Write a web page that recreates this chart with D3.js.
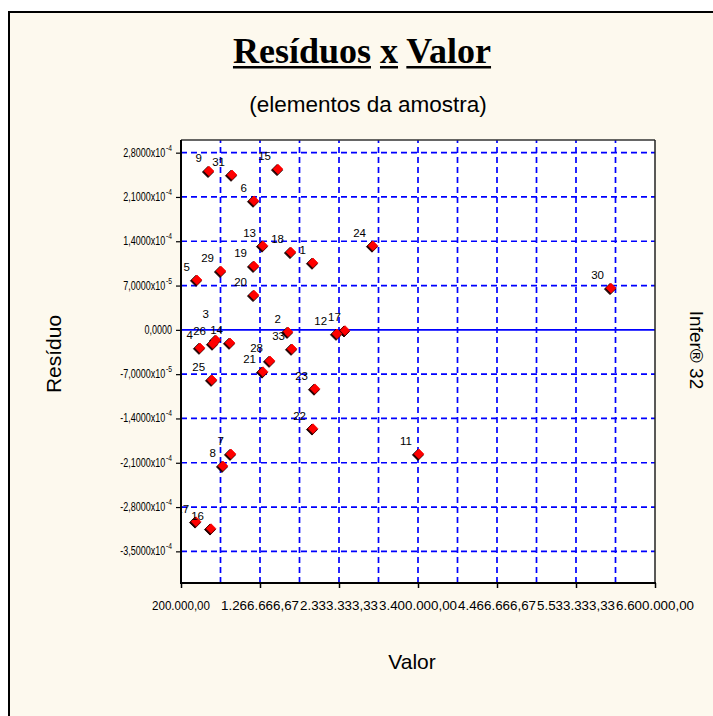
<!DOCTYPE html>
<html><head><meta charset="utf-8">
<script src="https://cdn.jsdelivr.net/npm/d3@7/dist/d3.min.js"></script>
<style>body{margin:0;background:#fff;overflow:hidden}</style>
</head><body>
<script>
// ---- data ----
const ids = ["1","2","3","4","5","6","7","8","9","11","12","13","14","15","16","17","18","19","20","21","22","23","24","25","26","27","28","29","30","31","33"];
const valores = [1982000,1645000,672000,456000,416000,1186000,875000,767000,578000,3413000,2306000,1307000,862000,1510000,605000,2414000,1685000,1186000,1186000,1307000,1982000,2009000,2792000,619000,632000,403000,1402000,740000,6006000,889000,1699000];
const residuos = [1.06e-4,-3.2e-6,-1.6e-5,-2.84e-5,7.9e-5,2.04e-4,-1.96e-4,-2.15e-4,2.51e-4,-1.96e-4,-6.3e-6,1.33e-4,-2.05e-5,2.54e-4,-3.14e-4,-1.0e-6,1.23e-4,1.01e-4,5.5e-5,-6.6e-5,-1.56e-4,-9.3e-5,1.33e-4,-7.9e-5,-2.2e-5,-3.03e-4,-4.9e-5,9.3e-5,6.6e-5,2.45e-4,-3.0e-5];
const xTicks = [200000, 1266666.67, 2333333.33, 3400000, 4466666.67, 5533333.33, 6600000];
const xGrid = [733333.33,1266666.67,1800000,2333333.33,2866666.67,3400000,3933333.33,4466666.67,5000000,5533333.33,6066666.67];
const yTicks = [2.8e-4, 2.1e-4, 1.4e-4, 7e-5, 0, -7e-5, -1.4e-4, -2.1e-4, -2.8e-4, -3.5e-4];
const titleText = "Resíduos x Valor";
const subtitleText = "(elementos da amostra)";
const xTitle = "Valor", yTitle = "Resíduo", sideText = "Infer® 32";

// ---- layout ----
const W = 713, H = 716;
const L = 181, R = 655, T = 140, B = 583;
const cream = "#fdf9ee";
const sans = "Liberation Sans, Arial, sans-serif";

const svg = d3.select("body").append("svg").attr("width", W).attr("height", H);
svg.append("rect").attr("x",0).attr("y",0).attr("width",W).attr("height",H).attr("fill","#fff");
svg.append("rect").attr("x",9).attr("y",12).attr("width",W+20).attr("height",H+20)
  .attr("fill",cream).attr("stroke","#000").attr("stroke-width",2);

const x = d3.scaleLinear().domain([200000, 6600000]).range([L, R]);
const y = d3.scaleLinear().domain([-4.0e-4, 3.0e-4]).range([B, T]);

svg.append("rect").attr("x",L).attr("y",T).attr("width",R-L).attr("height",B-T).attr("fill","#fff");

const defs = svg.append("defs");
defs.append("clipPath").attr("id","clip").append("rect").attr("x",L).attr("y",T).attr("width",R-L).attr("height",B-T);

// grid
const grid = svg.append("g").attr("stroke","#0000ff").attr("stroke-width",1.7).attr("stroke-dasharray","6,4");
grid.selectAll("line.v").data(xGrid).join("line")
  .attr("x1",d=>x(d)).attr("x2",d=>x(d)).attr("y1",B).attr("y2",T);
grid.selectAll("line.h").data(yTicks.filter(d=>d!==0)).join("line")
  .attr("x1",L).attr("x2",R).attr("y1",d=>y(d)).attr("y2",d=>y(d));
svg.append("line").attr("x1",L).attr("x2",R).attr("y1",y(0)).attr("y2",y(0))
  .attr("stroke","#0000ff").attr("stroke-width",1.7);

// border
svg.append("line").attr("x1",L).attr("x2",R).attr("y1",T).attr("y2",T).attr("stroke","#333").attr("stroke-width",1.5);
svg.append("line").attr("x1",R).attr("x2",R).attr("y1",T).attr("y2",B).attr("stroke","#222").attr("stroke-width",1.5);
svg.append("line").attr("x1",L).attr("x2",L).attr("y1",T).attr("y2",B+1).attr("stroke","#000").attr("stroke-width",2);
svg.append("line").attr("x1",L-1).attr("x2",R+1).attr("y1",B).attr("y2",B).attr("stroke","#000").attr("stroke-width",2);

// axes ticks
const xAxis = d3.axisBottom(x).tickValues(xTicks).tickSize(5).tickFormat("");
const gx = svg.append("g").attr("transform",`translate(0,${B})`).call(xAxis);
gx.select(".domain").remove();
gx.selectAll("line").attr("stroke","#000").attr("stroke-width",1.5);
const yAxis = d3.axisLeft(y).tickValues(yTicks).tickSize(5).tickFormat("");
const gy = svg.append("g").attr("transform",`translate(${L},0)`).call(yAxis);
gy.select(".domain").remove();
gy.selectAll("line").attr("stroke","#000").attr("stroke-width",1.2);

// x tick labels
const loc = d3.formatLocale({decimal:",", thousands:".", grouping:[3], currency:["",""]});
const fx = loc.format(",.2f");
const xl = svg.append("g").attr("font-family",sans).attr("font-size",12.5).attr("fill","#000");
xTicks.forEach(v=>{
  const s = fx(v);
  xl.append("text").attr("x",x(v)).attr("y",610).attr("text-anchor","middle")
    .attr("textLength", s.length>10 ? 78 : 58).attr("lengthAdjust","spacingAndGlyphs").text(s);
});

// y tick labels (mantissa + superscript exponent in one text, horizontally condensed)
const yl = svg.append("g").attr("font-family",sans).attr("fill","#000");
yTicks.forEach(v=>{
  const gg = yl.append("g").attr("transform",`translate(172,${y(v)+4}) scale(0.75,1)`);
  const t = gg.append("text").attr("text-anchor","end").attr("font-size",12);
  if (v === 0) {
    t.text("0,0000");
  } else {
    const e = Math.floor(Math.log10(Math.abs(v)) + 1e-9);
    const m = (v/Math.pow(10,e)).toFixed(4).replace(".",",");
    t.append("tspan").text(m + "x10");
    t.append("tspan").attr("font-size",9).attr("dy",-6).attr("dx",1).text(String(e));
  }
});

// points
const pts = ids.map((id,i)=>({id, px:x(valores[i]), py:y(residuos[i])}));
const g = svg.append("g").attr("clip-path","url(#clip)");
const diamond = r => `M0,${-r}L${r},0L0,${r}L${-r},0Z`;
g.selectAll("path.sh").data(pts).join("path").attr("d",diamond(5.5))
  .attr("transform",d=>`translate(${d.px-1},${d.py+1})`).attr("fill","#200").attr("stroke","#200").attr("stroke-width",1).attr("stroke-linejoin","round");
g.selectAll("path.pt").data(pts).join("path").attr("d",diamond(4.8))
  .attr("transform",d=>`translate(${d.px},${d.py})`).attr("fill","#ff0000").attr("stroke","#ff0000").attr("stroke-width",0.8).attr("stroke-linejoin","round");

// labels: bottom-most first; near-coincident points stack labels upward
const order = pts.slice().sort((a,b)=>b.py-a.py);
const placed = [];
order.forEach(p=>{
  let lvl = 0;
  placed.forEach(q=>{ if (Math.hypot(q.px-p.px,q.py-p.py) < 6) lvl = Math.max(lvl, q.lvl+1); });
  p.lvl = lvl; p.lx = p.px-7; p.ly = p.py-9-13*p.lvl; placed.push(p);
});
const lab = svg.append("g").attr("clip-path","url(#clip)")
  .attr("font-family",sans).attr("font-size",11.5).attr("fill","#000");
const lt = lab.selectAll("text").data(order).join("text")
  .attr("x",d=>d.lx).attr("y",d=>d.ly).attr("text-anchor","end").text(d=>d.id);
// small horizontal separation for labels that still collide
lt.each(function(d){ d.w = this.getComputedTextLength(); });
for (let i=0;i<order.length;i++) for (let j=0;j<i;j++) {
  const a = order[j], b = order[i];
  const ax1 = a.lx - a.w, bx1 = b.lx - b.w;
  const ox = Math.min(a.lx, b.lx) - Math.max(ax1, bx1);
  const oy = 10 - Math.abs(a.ly - b.ly);
  if (ox > 0 && oy > 0) {
    const d = ox + 1;
    if (a.lx <= b.lx) { a.lx -= d/2; b.lx += d/2; } else { a.lx += d/2; b.lx -= d/2; }
  }
}
lt.attr("x",d=>d.lx);

// titles
const tt = svg.append("text").attr("x",362).attr("y",63).attr("text-anchor","middle")
  .attr("font-family","Liberation Serif, Times New Roman, serif").attr("font-weight","bold")
  .attr("font-size",36).attr("fill","#000").text(titleText);
const node = tt.node();
const words = [[0,7],[9,9],[11,15]];
words.forEach(([a,b])=>{
  const x1 = node.getStartPositionOfChar(a).x, x2 = node.getEndPositionOfChar(b).x;
  svg.append("rect").attr("x",x1).attr("y",66).attr("width",x2-x1).attr("height",2.5).attr("fill","#000");
});
svg.append("text").attr("x",368).attr("y",112).attr("text-anchor","middle")
  .attr("font-family",sans).attr("font-size",22.5).attr("fill","#000").text(subtitleText);
svg.append("text").attr("x",412).attr("y",669).attr("text-anchor","middle")
  .attr("font-family",sans).attr("font-size",21).attr("fill","#000").text(xTitle);
svg.append("text").attr("transform","translate(61,354) rotate(-90)").attr("text-anchor","middle")
  .attr("font-family",sans).attr("font-size",21).attr("fill","#000").text(yTitle);
svg.append("text").attr("transform","translate(690,350) rotate(90)").attr("text-anchor","middle")
  .attr("font-family",sans).attr("font-size",19).attr("fill","#000").text(sideText);
</script>
</body></html>
